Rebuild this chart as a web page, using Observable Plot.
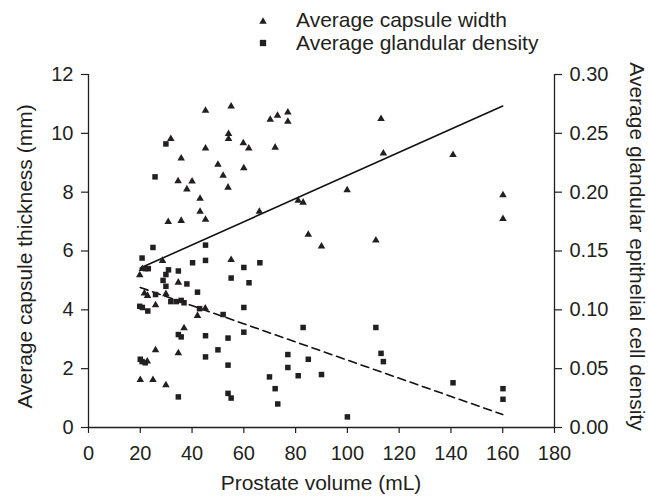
<!DOCTYPE html>
<html><head><meta charset="utf-8">
<script src="https://cdn.jsdelivr.net/npm/d3@7"></script>
<script src="https://cdn.jsdelivr.net/npm/@observablehq/plot@0.6"></script>
<style>
body{margin:0;background:#fff;}
#chart svg{display:block;}
</style></head><body><div id="chart"></div>
<script>
// Average capsule width (mm) vs prostate volume (mL) — triangles, left axis
const capsuleVolume = [45.2,55.1,70.2,73.0,77.0,77.0,113.0,31.8,54.1,54.1,59.8,61.9,45.2,72.1,113.9,140.8,
  35.8,50.0,60.0,52.0,34.6,40.0,53.9,38.0,99.9,43.1,81.0,82.9,43.1,66.0,45.2,30.8,35.8,160.1,160.1,
  84.9,111.0,90.0,55.1,28.6,20.8,19.8,34.7,21.6,22.8,29.9,25.9,45.1,42.1,36.9,25.9,34.7,22.7,20.0,24.9,29.9];
const capsuleWidth = [10.77,10.92,10.47,10.60,10.71,10.40,10.49,9.81,9.98,9.81,9.67,9.49,9.49,9.52,9.32,9.27,
  9.15,8.94,8.82,8.56,8.38,8.37,8.16,8.10,8.07,7.78,7.71,7.65,7.34,7.34,7.07,6.99,7.03,7.90,7.09,
  6.56,6.36,6.16,5.70,5.67,5.39,5.18,4.93,4.56,4.48,4.54,4.16,4.05,3.80,3.38,2.63,2.53,2.25,1.62,1.62,1.44];

// Average glandular epithelial cell density vs prostate volume — squares, right axis
const densityVolume = [29.9,25.7,24.9,45.2,20.7,45.2,40.2,66.2,60.0,22.0,23.1,30.9,34.7,29.9,55.1,28.8,38.0,62.0,
  29.9,42.1,25.9,31.8,33.9,35.8,36.9,19.8,20.8,22.9,60.0,42.9,52.0,34.7,35.8,45.2,53.9,60.0,50.0,45.2,
  20.0,20.7,21.9,53.9,69.9,34.7,53.9,55.1,82.9,111.0,77.0,84.9,113.0,113.9,77.0,81.0,90.0,72.1,73.1,100.0,
  140.8,160.1,160.1];
const densityValue = [0.241,0.213,0.153,0.155,0.144,0.142,0.140,0.140,0.136,0.135,0.135,0.134,0.133,0.130,0.127,0.125,0.122,0.123,
  0.120,0.115,0.113,0.107,0.107,0.108,0.106,0.103,0.102,0.099,0.102,0.101,0.096,0.079,0.077,0.078,0.076,0.081,0.066,0.060,
  0.058,0.056,0.055,0.053,0.043,0.026,0.029,0.025,0.085,0.085,0.062,0.058,0.063,0.056,0.051,0.044,0.045,0.033,0.020,0.009,
  0.038,0.033,0.024];

// Trend lines (end points)
const trendVolume = [20, 160];
const capsuleTrend = [5.42, 10.93];
const densityTrend = [0.119, 0.011];

// Axes
const xTicks = [0,20,40,60,80,100,120,140,160,180];
const leftTicks = [0,2,4,6,8,10,12];
const rightTicks = [0,0.05,0.10,0.15,0.20,0.25,0.30];
const RIGHT_PER_LEFT = 0.025; // 12 mm on the left ↔ 0.30 on the right

const legendLabels = ["Average capsule width", "Average glandular density"];
const xLabel = "Prostate volume (mL)";
const leftLabel = "Average capsule thickness (mm)";
const rightLabel = "Average glandular epithelial cell density";

const ink = "#231f20";
const font = "'Liberation Sans', Arial, Helvetica, sans-serif";

const capsule = capsuleVolume.map((v,i)=>({x:v, y:capsuleWidth[i]}));
const density = densityVolume.map((v,i)=>({x:v, d:densityValue[i]}));
const capTrend = trendVolume.map((v,i)=>({x:v, y:capsuleTrend[i]}));
const denTrend = trendVolume.map((v,i)=>({x:v, d:densityTrend[i]}));

const plot = Plot.plot({
  width: 648, height: 496,
  marginTop: 74, marginBottom: 69, marginLeft: 88, marginRight: 94,
  style: {fontFamily: font, fontSize: "20px", color: ink, background: "white"},
  x: {domain: [0, 180]},
  y: {domain: [0, 12]},
  marks: [
    Plot.axisX({ticks: xTicks, tickSize: 6, tickPadding: 12, label: null, fontSize: 20, stroke: ink, strokeWidth: 1.2}),
    Plot.axisY({ticks: leftTicks, tickSize: 7, tickPadding: 8, label: null, fontSize: 20, stroke: ink, strokeWidth: 1.2}),
    Plot.axisY({anchor: "right", ticks: rightTicks.map(t => t / RIGHT_PER_LEFT),
      tickFormat: d => (d * RIGHT_PER_LEFT).toFixed(2),
      tickSize: 7, tickPadding: 8, label: null, fontSize: 20, stroke: ink, strokeWidth: 1.2}),
    Plot.ruleX([0], {stroke: ink, strokeWidth: 1.3}),
    Plot.ruleX([180], {stroke: ink, strokeWidth: 1.3}),
    Plot.ruleY([0], {stroke: ink, strokeWidth: 1.3}),
    Plot.line(capTrend, {x: "x", y: "y", stroke: "#111", strokeWidth: 1.6}),
    Plot.line(denTrend, {x: "x", y: d => d.d / RIGHT_PER_LEFT, stroke: "#111", strokeWidth: 1.6, strokeDasharray: "8,5"}),
    Plot.dot(capsule, {x: "x", y: "y", symbol: "triangle", r: 2.8, fill: ink, stroke: null}),
    Plot.dot(density, {x: "x", y: d => d.d / RIGHT_PER_LEFT, symbol: "square", r: 3.1, fill: ink, stroke: null})
  ]
});

document.getElementById("chart").appendChild(plot);

// Axis titles and legend, placed relative to the plot frame
const svg = d3.select(plot);
const frameL = 88, frameR = 648 - 94, frameT = 74, frameB = 496 - 69;
const addText = (txt, attrs) => {
  const t = svg.append("text").text(txt)
    .attr("font-family", font).attr("font-size", 21).attr("fill", ink)
    .attr("text-anchor", "start");
  for (const k in attrs) t.attr(k, attrs[k]);
  return t;
};
addText(xLabel, {x: (frameL + frameR) / 2, y: frameB + 63, "text-anchor": "middle"});
addText(leftLabel, {transform: `translate(32,${(frameT + frameB) / 2 + 6}) rotate(-90)`, "text-anchor": "middle"});
addText(rightLabel, {transform: `translate(${frameR + 76},${(frameT + frameB) / 2 - 4}) rotate(90)`, "text-anchor": "middle"});

const legendSymbols = [d3.symbolTriangle, d3.symbolSquare];
const legendSizes = [24, 40];
legendLabels.forEach((lab, i) => {
  const cy = 20.5 + i * 22.5;
  svg.append("path")
    .attr("d", d3.symbol(legendSymbols[i], legendSizes[i])())
    .attr("transform", `translate(263,${cy + (i === 0 ? 1 : 0)})`)
    .attr("fill", ink);
  addText(lab, {x: 296, y: 26.8 + i * 23.5});
});
</script></body></html>
